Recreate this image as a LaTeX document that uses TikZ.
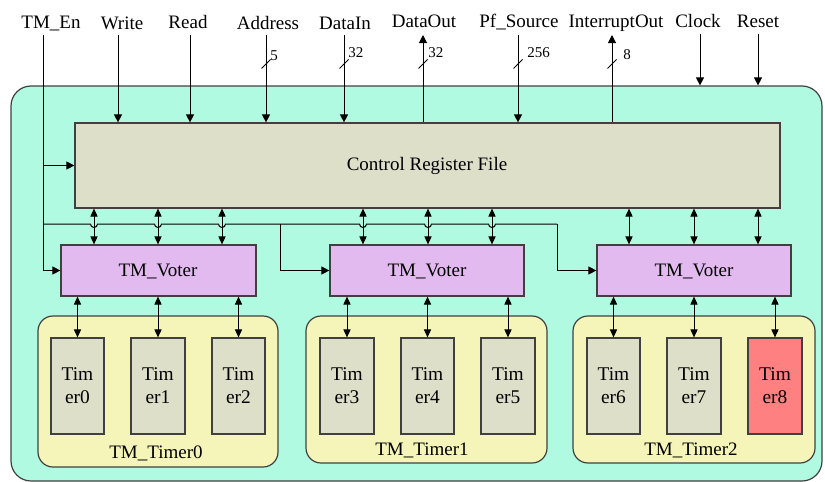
\documentclass[tikz,border=0pt]{standalone}
\usepackage{fontspec}
\setmainfont{Liberation Serif}
\usetikzlibrary{arrows.meta,fit}
\definecolor{boardfill}{RGB}{176,250,226}
\definecolor{regfill}{RGB}{221,223,200}
\definecolor{voterfill}{RGB}{226,186,240}
\definecolor{groupfill}{RGB}{245,245,186}
\definecolor{faultfill}{RGB}{255,128,128}
\begin{document}
\begin{tikzpicture}[x=0.5pt,y=-0.5pt,
  font=\fontsize{9.5}{11}\selectfont,
  box/.style={draw=black!75, line width=0.6pt, inner sep=0pt},
  fitbox/.style={box, fit={#1}},
  wire/.style={line width=0.5pt},
  sig/.style={wire, -{Triangle[length=4pt,width=4pt]}},
  bidir/.style={wire, {Triangle[length=4pt,width=3.6pt]}-{Triangle[length=4pt,width=3.6pt]}},
  siglab/.style={anchor=base, inner sep=0pt},
  boxtext/.style={anchor=center, inner sep=0pt, align=center, font=\fontsize{9.7}{11.5}\selectfont},
  buswidth/.style={anchor=base west, inner sep=0pt, font=\fontsize{7.5}{9}\selectfont},
  timer/.style={fill=regfill}]
\useasboundingbox (0,0) rectangle (825,482);

% board and main blocks
\node[fitbox={(11,86) (822,481)}, rounded corners=10pt, fill=boardfill] (board) {};
\node[fitbox={(75,123) (780,208)}, fill=regfill] (crf) {};
\node[fitbox={(61,245) (256,296)}, fill=voterfill] (vt1) {};
\node[fitbox={(330,245) (524,296)}, fill=voterfill] (vt2) {};
\node[fitbox={(597,245) (791,296)}, fill=voterfill] (vt3) {};
\node[siglab] (crflab) at (427,170) {Control Register File};
\node[siglab] (vt1lab) at (158,276) {TM\_Voter};
\node[siglab] (vt2lab) at (427,276) {TM\_Voter};
\node[siglab] (vt3lab) at (694,276) {TM\_Voter};

% timer groups
\node[fitbox={(38,316) (278,467)}, rounded corners=7.5pt, fill=groupfill] (g0) {};
\node[fitbox={(306,316) (547,463)}, rounded corners=7.5pt, fill=groupfill] (g1) {};
\node[fitbox={(573,316) (815,463)}, rounded corners=7.5pt, fill=groupfill] (g2) {};
\node[siglab] (g0lab) at (156,458) {TM\_Timer0};
\node[siglab] (g1lab) at (422,455) {TM\_Timer1};
\node[siglab] (g2lab) at (691,455) {TM\_Timer2};

\node[fitbox={(51,338) (104,434)}, timer] (t0) {};
\node[fitbox={(131,338) (185,434)}, timer] (t1) {};
\node[fitbox={(212,338) (265,434)}, timer] (t2) {};
\node[fitbox={(320,338) (374,434)}, timer] (t3) {};
\node[fitbox={(401,338) (454,434)}, timer] (t4) {};
\node[fitbox={(481,338) (535,434)}, timer] (t5) {};
\node[fitbox={(587,338) (640,434)}, timer] (t6) {};
\node[fitbox={(667,338) (721,434)}, timer] (t7) {};
\node[fitbox={(748,338) (802,434)}, timer, fill=faultfill] (t8) {};
\foreach \t/\n in {t0/0,t1/1,t2/2,t3/3,t4/4,t5/5,t6/6,t7/7,t8/8}
  \node[boxtext] (\t lab) at (\t.center) {Tim\\er\n};

% voter <-> timer links
\foreach \v/\t in {vt1/t0,vt1/t1,vt1/t2,vt2/t3,vt2/t4,vt2/t5,vt3/t6,vt3/t7,vt3/t8}
  \draw[bidir] (\v.south -| \t) -- (\t.north);

% top signal names
\node[siglab] (en)   at (51,28)  {TM\_En};
\node[siglab] (wr)   at (122,29) {Write};
\node[siglab] (rd)   at (188,28) {Read};
\node[siglab] (addr) at (268,29) {Address};
\node[siglab] (din)  at (345,30) {DataIn};
\node[siglab] (dout) at (424,27) {DataOut};
\node[siglab] (pf)   at (519,27) {Pf\_Source};
\node[siglab] (irq)  at (616,27) {InterruptOut};
\node[siglab] (clk)  at (698,27) {Clock};
\node[siglab] (rst)  at (758,27) {Reset};

% line positions of the top signals
\coordinate (enl)   at (43,35);
\coordinate (wrl)   at (118,35);
\coordinate (rdl)   at (190,35);
\coordinate (addrl) at (266,35);
\coordinate (dinl)  at (344,35);
\coordinate (doutl) at (423,35);
\coordinate (pfl)   at (518,35);
\coordinate (irql)  at (612,35);
\coordinate (clkl)  at (700,34);
\coordinate (rstl)  at (758,34);

\draw[sig] (wrl) -- (wrl |- crf.north);
\draw[sig] (rdl) -- (rdl |- crf.north);
\draw[sig] (addrl) -- (addrl |- crf.north);
\draw[sig] (dinl) -- (dinl |- crf.north);
\draw[sig] (pfl) -- (pfl |- crf.north);
\draw[sig] (doutl |- crf.north) -- (doutl);
\draw[sig] (irql |- crf.north) -- (irql);
\draw[sig] (clkl) -- (clkl |- board.north);
\draw[sig] (rstl) -- (rstl |- board.north);

% bus width marks
\foreach \c in {addrl,dinl,doutl,pfl,irql}
  \draw[wire] ([shift={(-4.5,33.5)}]\c) -- ([shift={(4.5,24.5)}]\c);
\node[buswidth] (waddr) at (270,61) {5};
\node[buswidth] (wdin)  at (348,57) {32};
\node[buswidth] (wdout) at (428,57) {32};
\node[buswidth] (wpf)   at (527,57) {256};
\node[buswidth] (wirq)  at (623,59) {8};

% TM_En distribution
\coordinate (bus)  at (43,224);
\coordinate (tap2) at (280,224);
\coordinate (tap3) at (557,224);
\draw[sig] (enl) |- (vt1.west);
\draw[sig] (enl |- crf.west) -- (crf.west);
\draw[wire] (bus) -- (90.5,224) arc[start angle=180,end angle=0,radius=3.5]
  -- (154.5,224) arc[start angle=180,end angle=0,radius=3.5]
  -- (218.5,224) arc[start angle=180,end angle=0,radius=3.5]
  -- (359.5,224) arc[start angle=180,end angle=0,radius=3.5]
  -- (424.5,224) arc[start angle=180,end angle=0,radius=3.5]
  -- (488.5,224) arc[start angle=180,end angle=0,radius=3.5]
  -- (tap3);
\draw[sig] (tap2) |- (vt2.west);
\draw[sig] (tap3) |- (vt3.west);

% register file <-> voter links
\coordinate (k1) at (94,0);  \coordinate (k2) at (158,0); \coordinate (k3) at (222,0);
\coordinate (k4) at (363,0); \coordinate (k5) at (428,0); \coordinate (k6) at (492,0);
\coordinate (k7) at (629,0); \coordinate (k8) at (694,0); \coordinate (k9) at (758,0);
\foreach \k/\v in {k1/vt1,k2/vt1,k3/vt1,k4/vt2,k5/vt2,k6/vt2,k7/vt3,k8/vt3,k9/vt3}
  \draw[bidir] (crf.south -| \k) -- (\v.north -| \k);
\end{tikzpicture}
\end{document}
